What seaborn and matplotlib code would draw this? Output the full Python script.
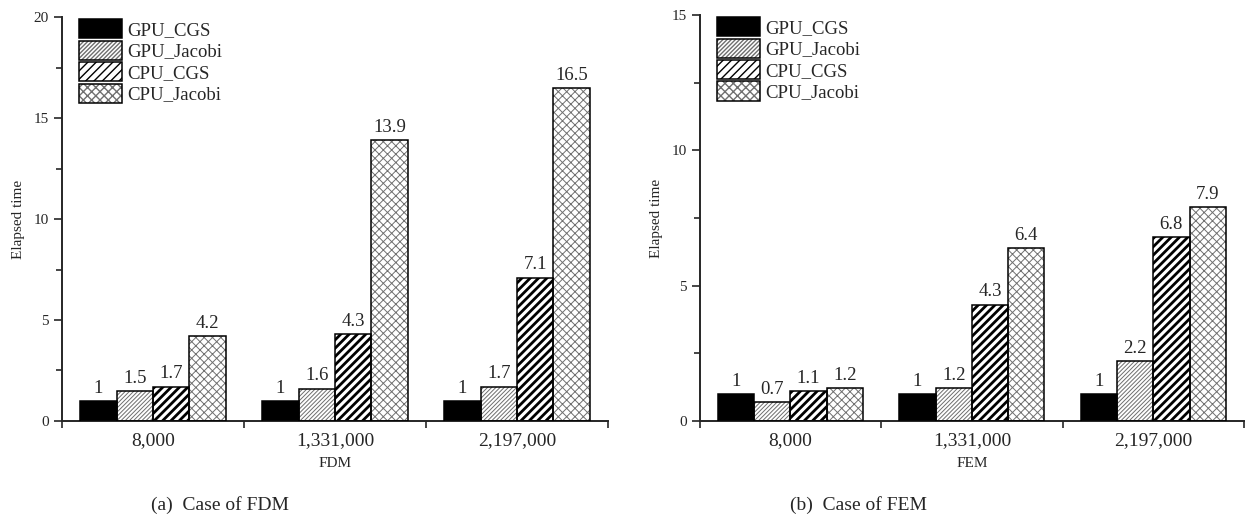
import pandas as pd
import matplotlib.pyplot as plt
import seaborn as sns
from matplotlib.patches import Rectangle, Patch
from matplotlib.ticker import MultipleLocator, FixedLocator

# data
sizes = ['8,000', '1,331,000', '2,197,000']
methods = ['GPU_CGS', 'GPU_Jacobi', 'CPU_CGS', 'CPU_Jacobi']
fdm_times = {
    'GPU_CGS': [1, 1, 1],
    'GPU_Jacobi': [1.5, 1.6, 1.7],
    'CPU_CGS': [1.7, 4.3, 7.1],
    'CPU_Jacobi': [4.2, 13.9, 16.5],
}
fem_times = {
    'GPU_CGS': [1, 1, 1],
    'GPU_Jacobi': [0.7, 1.2, 2.2],
    'CPU_CGS': [1.1, 4.3, 6.8],
    'CPU_Jacobi': [1.2, 6.4, 7.9],
}

# bar styles: fill, hatch, hatch colour, hatch width
styles = {
    'GPU_CGS': ('black', '', 'black', 1.0),
    'GPU_Jacobi': ('white', '////////', '#6e6e6e', 0.7),
    'CPU_CGS': ('white', '////', 'black', 2.0),
    'CPU_Jacobi': ('white', 'xxxx', '#707070', 0.7),
}


def to_long(times):
    rows = []
    for m in methods:
        for s, v in zip(sizes, times[m]):
            rows.append({'size': s, 'method': m, 'time': v})
    return pd.DataFrame(rows)


def draw_panel(ax, df, ymax, xlabel):
    sns.barplot(data=df, x='size', y='time', hue='method', order=sizes,
                hue_order=methods, palette=['white'] * 4, width=0.8,
                saturation=1, ax=ax, legend=False)
    for m, cont in zip(methods, ax.containers):
        fill, hatch, hcol, hlw = styles[m]
        for bar in cont:
            bar.set_facecolor(fill)
            bar.set_hatch(hatch)
            bar.set_edgecolor(hcol)
            bar.set_linewidth(0)
            if hasattr(bar, 'set_hatch_linewidth'):
                bar.set_hatch_linewidth(hlw)
            ax.add_patch(Rectangle(bar.get_xy(), bar.get_width(), bar.get_height(),
                                   fill=False, edgecolor='black', linewidth=1.1, zorder=3))
        ax.bar_label(cont, fmt='%g', padding=3, fontsize=13.5)

    ax.set_ylim(0, ymax)
    ax.set_xlim(-0.5, 2.5)
    ax.yaxis.set_major_locator(MultipleLocator(5))
    ax.yaxis.set_minor_locator(MultipleLocator(2.5))
    ax.xaxis.set_minor_locator(FixedLocator([-0.5, 0.5, 1.5, 2.5]))
    ax.tick_params(axis='x', which='major', length=0, labelsize=14, pad=8)
    ax.tick_params(axis='x', which='minor', length=5, width=1.2, direction='out')
    ax.tick_params(axis='y', which='major', length=6, width=1.2, labelsize=11)
    ax.tick_params(axis='y', which='minor', length=4, width=1.2)
    ax.set_xlabel(xlabel, fontsize=11, labelpad=6)
    ax.set_ylabel('Elapsed time', fontsize=11, labelpad=6)
    for sp in ['left', 'bottom']:
        ax.spines[sp].set_linewidth(1.4)
    sns.despine(ax=ax)

    handles = []
    for m in methods:
        fill, hatch, hcol, hlw = styles[m]
        h = Patch(facecolor=fill, hatch=hatch, edgecolor=hcol, linewidth=0)
        if hasattr(h, 'set_hatch_linewidth'):
            h.set_hatch_linewidth(hlw)
        o = Patch(facecolor='none', edgecolor='black', linewidth=1.1)
        handles.append((h, o))
    ax.legend(handles, methods, loc='upper left', bbox_to_anchor=(0.031, 0.995),
              frameon=False, fontsize=13.5, handlelength=2.3, handleheight=1.2,
              labelspacing=0.08, handletextpad=0.3, borderpad=0, borderaxespad=0)


sns.set_style('ticks')
plt.rcParams['font.family'] = ['Liberation Serif', 'DejaVu Serif']

fig = plt.figure(figsize=(12.54, 5.21), dpi=100)
ax1 = fig.add_axes([0.0494, 0.192, 0.4355, 0.775])
ax2 = fig.add_axes([0.558, 0.192, 0.434, 0.779])

draw_panel(ax1, to_long(fdm_times), 20, 'FDM')
draw_panel(ax2, to_long(fem_times), 15, 'FEM')

fig.text(0.1205, 0.031, '(a)  Case of FDM', fontsize=14, ha='left', va='center')
fig.text(0.630, 0.031, '(b)  Case of FEM', fontsize=14, ha='left', va='center')

fig.savefig('out.png', dpi=100)
